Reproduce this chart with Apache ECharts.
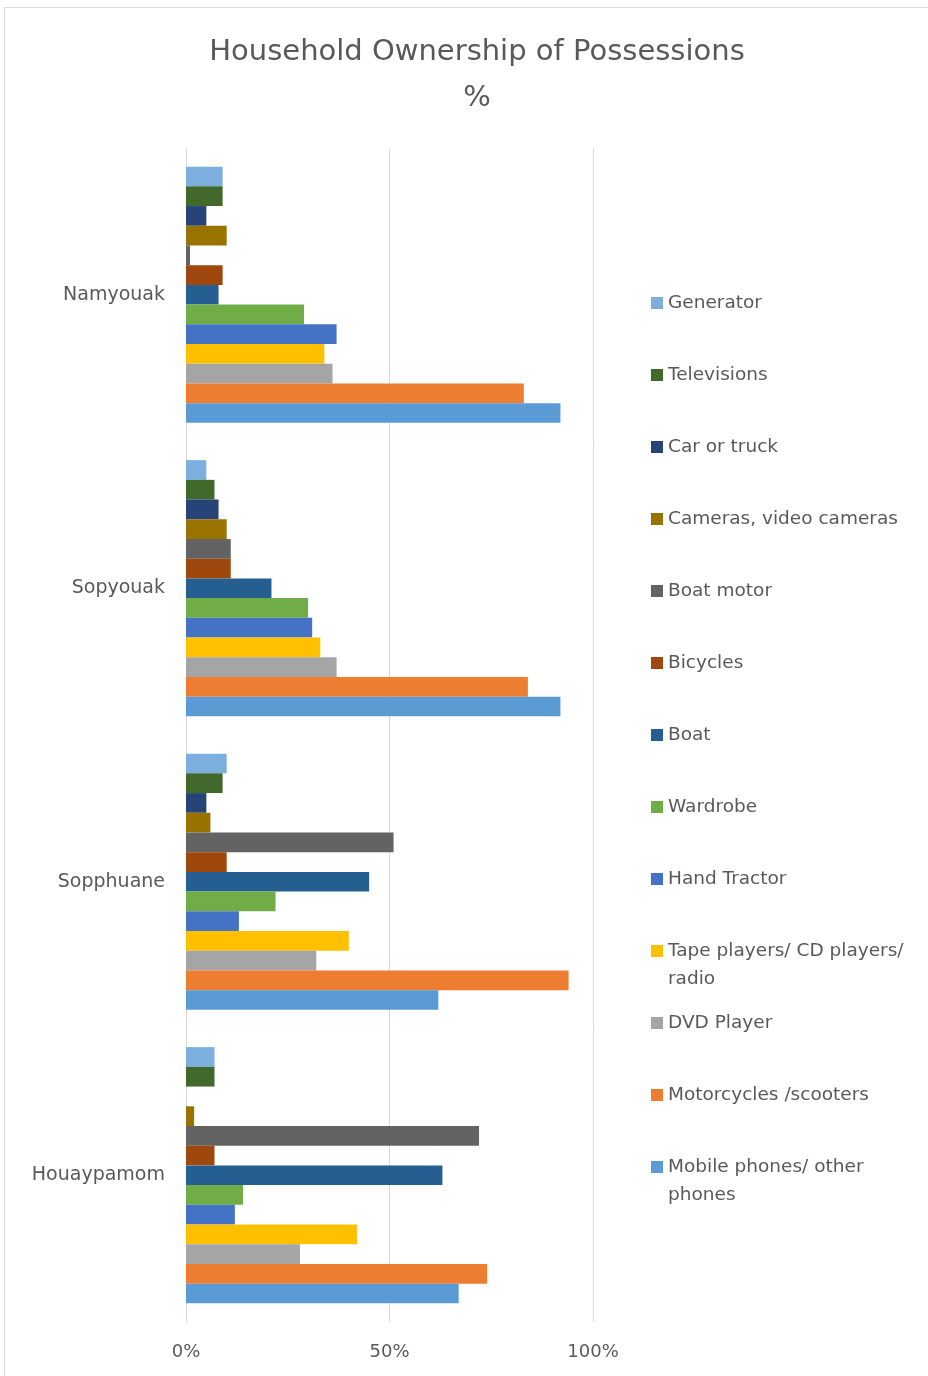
<!DOCTYPE html>
<html>
<head>
<meta charset="utf-8">
<script src="https://cdn.jsdelivr.net/npm/echarts@6/dist/echarts.min.js"></script>
<style>
  html, body { margin: 0; padding: 0; background: #fff; }
  #chart { width: 928px; height: 1376px; }
</style>
</head>
<body>
<div id="chart"></div>
<script>
// villages, top to bottom
const villages = ['Namyouak', 'Sopyouak', 'Sopphuane', 'Houaypamom'];

// possessions, in order from top bar to bottom bar of each group
const items = [
  'Generator', 'Televisions', 'Car or truck', 'Cameras, video cameras',
  'Boat motor', 'Bicycles', 'Boat', 'Wardrobe', 'Hand Tractor',
  'Tape players/ CD players/ radio', 'DVD Player', 'Motorcycles /scooters',
  'Mobile phones/ other phones'
];

// % of households, one array per village (same order as items)
const namyouak   = [9, 9, 5, 10, 1, 9, 8, 29, 37, 34, 36, 83, 92];
const sopyouak   = [5, 7, 8, 10, 11, 11, 21, 30, 31, 33, 37, 84, 92];
const sopphuane  = [10, 9, 5, 6, 51, 10, 45, 22, 13, 40, 32, 94, 62];
const houaypamom = [7, 7, 0, 2, 72, 7, 63, 14, 12, 42, 28, 74, 67];

const xTicks = [0, 50, 100];

const colors = [
  '#7cafdd', '#43682b', '#264478', '#997300', '#636363', '#9e480e',
  '#255e91', '#70ad47', '#4472c4', '#ffc000', '#a5a5a5', '#ed7d31', '#5b9bd5'
];

// legend names that wrap onto two lines
const wrapped = {
  'Tape players/ CD players/ radio': 'Tape players/ CD players/\nradio',
  'Mobile phones/ other phones': 'Mobile phones/ other\nphones'
};

const font = '"DejaVu Sans", Verdana, sans-serif';
const grey = '#595959';

const byVillage = [namyouak, sopyouak, sopphuane, houaypamom];

const series = items.map((name, i) => ({
  name: name,
  type: 'bar',
  barGap: '0%',
  barCategoryGap: '12.7%',
  itemStyle: { color: colors[i] },
  data: byVillage.map(v => v[i])
}));

// one legend block per item so the spacing stays even like the original.
// wrapped names get an empty first line so the icon sits on the first text line
const lh = 28;
const legends = items.map((name, i) => {
  const center = 303 + i * 72;
  const two = !!wrapped[name];
  return {
    data: [name],
    orient: 'vertical',
    left: 646,
    top: two ? center - 1.5 * lh - 5 : center - lh / 2 - 5,
    itemWidth: 12,
    itemHeight: 12,
    itemGap: 0,
    icon: 'rect',
    selectedMode: false,
    formatter: n => wrapped[n] ? ' \n' + wrapped[n] : n,
    textStyle: {
      fontFamily: font,
      fontSize: 18.5,
      color: grey,
      lineHeight: lh
    }
  };
});

const chart = echarts.init(document.getElementById('chart'), null, { renderer: 'canvas' });

chart.setOption({
  backgroundColor: '#fff',
  animation: false,
  textStyle: { fontFamily: font },
  title: {
    text: 'Household Ownership of Possessions\n%',
    left: 472,
    top: 24,
    textAlign: 'center',
    textStyle: {
      fontFamily: font,
      fontSize: 29,
      fontWeight: 'normal',
      color: grey,
      lineHeight: 46
    }
  },
  graphic: [{
    type: 'rect',
    shape: { x: 4.5, y: 7.5, width: 940, height: 1400 },
    style: { fill: null, stroke: '#d9d9d9', lineWidth: 1 },
    silent: true,
    z: -10
  }],
  legend: legends,
  grid: { left: 186, right: 335, top: 148, bottom: 54, containLabel: false },
  xAxis: {
    type: 'value',
    min: xTicks[0],
    max: xTicks[xTicks.length - 1],
    interval: xTicks[1] - xTicks[0],
    axisLine: { show: false },
    axisTick: { show: false },
    splitLine: { lineStyle: { color: '#d9d9d9', width: 1 } },
    axisLabel: {
      formatter: '{value}%',
      color: grey,
      fontSize: 18,
      margin: 21,
      fontFamily: font
    }
  },
  yAxis: {
    type: 'category',
    inverse: true,
    data: villages,
    axisLine: { show: true, lineStyle: { color: '#d9d9d9', width: 1 } },
    axisTick: { show: false },
    axisLabel: {
      color: grey,
      fontSize: 19,
      margin: 21,
      fontFamily: font
    }
  },
  series: series
});
</script>
</body>
</html>
